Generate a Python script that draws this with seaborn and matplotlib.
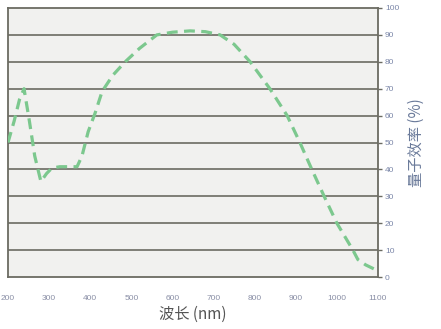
import matplotlib
matplotlib.use("Agg")
import matplotlib.pyplot as plt
import seaborn as sns
import pandas as pd

wavelength = [200, 215, 228, 239, 252, 265, 280, 294, 307, 326, 345, 368, 380,
              395, 412, 429, 455, 485, 520, 562, 600, 643, 680, 716, 750, 789,
              837, 879, 910, 939, 969, 1000, 1039, 1051, 1070, 1097]
qe = [50, 58, 66, 70, 58, 45, 35.5, 38.5, 40.5, 41, 41, 41, 45,
      54, 61, 69, 75, 80, 85, 90, 91, 91.5, 91.2, 90, 86.5, 80,
      70, 60, 50, 40, 30, 20, 10, 6.5, 4.5, 2.5]
x_ticks = [200, 300, 400, 500, 600, 700, 800, 900, 1000, 1100]
y_ticks = [0, 10, 20, 30, 40, 50, 60, 70, 80, 90, 100]
x_label = "波长 (nm)"
y_label = "量子效率 (%)"

df = pd.DataFrame({"wavelength": wavelength, "qe": qe})

sns.set_theme(style="white")
plt.rcParams["font.family"] = ["Noto Sans CJK SC", "DejaVu Sans"]

fig = plt.figure(figsize=(4.41, 3.29), dpi=100)
ax = fig.add_axes([8/441, 1 - 277/329, 370/441, 269/329])
ax.set_facecolor("#f1f1ef")

for v in y_ticks[1:-1]:
    ax.axhline(v, color="#6b6b62", lw=1.2, zorder=1)

sns.lineplot(data=df, x="wavelength", y="qe", ax=ax, color="#7cc88e",
             lw=2.3, linestyle=(0, (3.4, 2.0)), zorder=3)

ax.set_xlim(200, 1100)
ax.set_ylim(0, 100)
for s in ax.spines.values():
    s.set_visible(True)
    s.set_color("#6b6b62")
    s.set_linewidth(1.3)

ax.yaxis.tick_right()
ax.set_yticks(y_ticks)
ax.set_yticklabels([str(v) for v in y_ticks], fontfamily="Liberation Sans")
ax.tick_params(axis="y", which="both", right=True, left=False, length=3,
               width=1, color="#6b6b62", labelsize=6, labelcolor="#7a86a8", pad=2)
ax.set_xticks(x_ticks)
ax.set_xticklabels([str(v) for v in x_ticks], fontfamily="Liberation Sans")
ax.tick_params(axis="x", bottom=False, labelsize=6, labelcolor="#8a8fa6", pad=7)

ax.set_xlabel(x_label, fontsize=11, color="#555555", labelpad=3)
ax.yaxis.set_label_position("right")
ax.set_ylabel(y_label, fontsize=11, color="#6a7a9a", labelpad=6)

fig.savefig("out.png", dpi=100, facecolor="white")
